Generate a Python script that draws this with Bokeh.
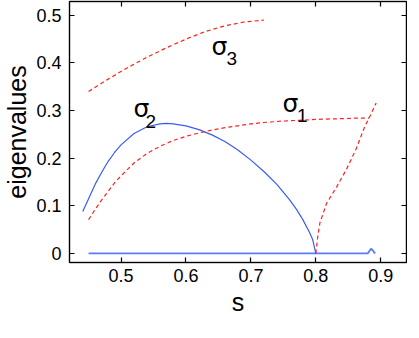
from bokeh.plotting import figure
from bokeh.models import LinearAxis, Range1d, FixedTicker, CustomJSTickFormatter
from bokeh.core.properties import value
from bokeh.embed import file_html
from bokeh.resources import INLINE

# ---- data ----
s_sigma2 = [0.441, 0.45, 0.46, 0.47, 0.48, 0.49, 0.50, 0.52, 0.54, 0.56, 0.57, 0.58, 0.60,
            0.62, 0.64, 0.66, 0.68, 0.70, 0.72, 0.74, 0.76, 0.77, 0.78, 0.79, 0.795, 0.80]
sigma2 = [0.088, 0.115, 0.145, 0.170, 0.193, 0.212, 0.228, 0.252, 0.266, 0.272, 0.273, 0.272, 0.268,
          0.260, 0.249, 0.235, 0.217, 0.196, 0.172, 0.145, 0.112, 0.093, 0.071, 0.045, 0.030, 0.0]

s_zero = [0.45, 0.60, 0.80, 0.880, 0.882, 0.884, 0.885, 0.886, 0.888, 0.890, 0.8915]
zero_branch = [0.0, 0.0, 0.0, 0.0, 0.004, 0.008, 0.0095, 0.009, 0.006, 0.002, 0.0]

s_sigma1 = [0.45, 0.46, 0.47, 0.48, 0.49, 0.50, 0.52, 0.54, 0.56, 0.58, 0.60, 0.62, 0.64,
            0.66, 0.68, 0.70, 0.72, 0.75, 0.78, 0.81, 0.84, 0.86, 0.882]
sigma1 = [0.071, 0.092, 0.112, 0.130, 0.148, 0.163, 0.190, 0.210, 0.225, 0.237, 0.246, 0.253, 0.259,
          0.264, 0.268, 0.272, 0.275, 0.278, 0.280, 0.282, 0.283, 0.284, 0.284]

s_rise = [0.800, 0.803, 0.8063, 0.8165, 0.8318, 0.847, 0.8623, 0.875, 0.8816, 0.893]
rise = [0.0, 0.035, 0.064, 0.105, 0.139, 0.176, 0.220, 0.265, 0.283, 0.316]

s_sigma3 = [0.45, 0.48, 0.51, 0.54, 0.57, 0.60, 0.63, 0.66, 0.69, 0.72]
sigma3 = [0.340, 0.366, 0.390, 0.412, 0.432, 0.450, 0.466, 0.478, 0.486, 0.490]

x_ticks = [0.5, 0.6, 0.7, 0.8, 0.9]
y_ticks = [0, 0.1, 0.2, 0.3, 0.4, 0.5]
x_label = "s"
y_label = "eigenvalues"

FONT = "Liberation Sans"
BLUE = "#3a5cf5"
RED = "#ff2020"

p = figure(frame_width=337, frame_height=261, output_backend="svg", toolbar_location=None,
           x_range=Range1d(0.4206, 0.9397), y_range=Range1d(-0.019, 0.529),
           x_axis_location=None, y_axis_location=None,
           min_border_left=64, min_border_right=1, min_border_top=1, min_border_bottom=10)
p.grid.visible = False
p.outline_line_color = "#333333"
p.outline_line_width = 1.5
p.background_fill_color = "white"
p.border_fill_color = "white"


def style_axis(ax, ticks, labels=True):
    ax.ticker = FixedTicker(ticks=ticks)
    ax.major_tick_in = 5
    ax.major_tick_out = 0
    ax.minor_tick_in = 0
    ax.minor_tick_out = 0
    ax.minor_tick_line_color = None
    ax.axis_line_color = "black"
    ax.major_tick_line_color = "black"
    ax.major_tick_line_width = 1.2
    ax.major_label_text_font = FONT
    ax.major_label_text_font_size = "18px"
    ax.major_label_text_color = "black"
    ax.axis_label_text_font = FONT
    ax.axis_label_text_font_style = "normal"
    ax.axis_label_text_font_size = "25px"
    ax.axis_label_text_color = "black"
    if not labels:
        ax.formatter = CustomJSTickFormatter(code="return ''")
        ax.major_label_standoff = 0
        ax.axis_label_standoff = 0


bx = LinearAxis(axis_label=x_label)
ly = LinearAxis(axis_label=y_label)
tx = LinearAxis()
ry = LinearAxis()
p.add_layout(bx, "below")
p.add_layout(ly, "left")
p.add_layout(tx, "above")
p.add_layout(ry, "right")
style_axis(bx, x_ticks)
style_axis(ly, y_ticks)
style_axis(tx, x_ticks, labels=False)
style_axis(ry, y_ticks, labels=False)
bx.major_label_standoff = 6
bx.axis_label_standoff = 3
ly.major_label_standoff = 8
ly.axis_label_standoff = 2

# ---- curves ----
p.line(s_zero, zero_branch, line_color="#5a7bff", line_width=1.8)
p.line(s_sigma2, sigma2, line_color=BLUE, line_width=1.2)
p.line(s_sigma1, sigma1, line_color=RED, line_width=1.2, line_dash="4 3")
p.line(s_rise, rise, line_color=RED, line_width=1.2, line_dash="4 3")
p.line(s_sigma3, sigma3, line_color=RED, line_width=1.2, line_dash="4 3")

# ---- labels sigma_k ----
sig_x = [0.5192, 0.6394, 0.7487]
sig_y = [0.3042, 0.4337, 0.3144]
sub_x = [0.5376, 0.6623, 0.7711]
sub_y = [0.2776, 0.4100, 0.2893]
sub_t = ["2", "3", "1"]
p.text(sig_x, sig_y, text=["σ"] * 3, text_font=value("DejaVu Sans"), text_font_size=value("25px"),
       text_color="black", text_align="left", text_baseline="alphabetic")
p.text(sub_x, sub_y, text=sub_t, text_font=value(FONT), text_font_size=value("19px"),
       text_color="black", text_align="left", text_baseline="alphabetic")

open("out.html", "w").write(file_html(p, INLINE))
